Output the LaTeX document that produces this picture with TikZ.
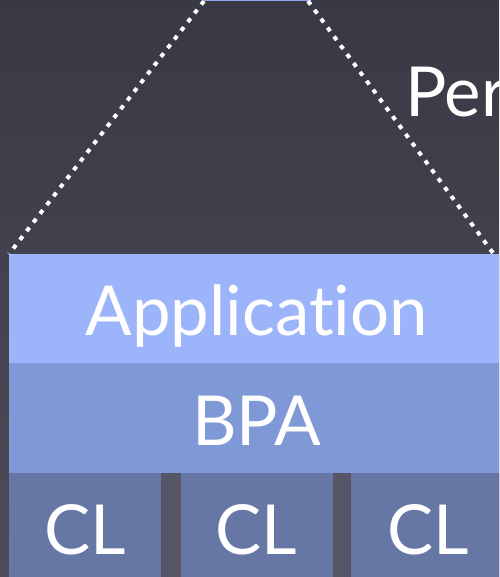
\documentclass[tikz,border=0pt]{standalone}
\usepackage{fontspec}
\setmainfont{Lato}[Ligatures=NoCommon]
\usetikzlibrary{positioning}
\definecolor{bgtop}{HTML}{393945}
\definecolor{bgbot}{HTML}{4D4C5A}
\definecolor{appblue}{HTML}{9CB4FA}
\definecolor{bpablue}{HTML}{7F99D6}
\definecolor{clblue}{HTML}{6677A6}
\definecolor{gapgray}{HTML}{555566}
\definecolor{topblue}{HTML}{8FA6F0}
\tikzset{
  layer/.style={inner sep=0pt, text=white, font=\fontsize{69}{69}\selectfont, anchor=north west},
  dots/.style={draw=white, line width=4pt, dash pattern=on 4.5pt off 6.5pt},
  lab/.style={text=white, font=\fontsize{69}{69}\selectfont, inner sep=0pt},
}
\begin{document}
\begin{tikzpicture}[x=1pt,y=-1pt]
  \useasboundingbox (0,0) rectangle (499,577);
  \clip (0,0) rectangle (499,577);
  \shade[top color=bgtop, bottom color=bgbot] (0,0) rectangle (499,577);

  % layers
  \node[layer, fill=appblue, minimum width=495pt, text height=81pt, text depth=28pt] (app) at (9,254) {Application};
  \node[layer, fill=bpablue, minimum width=495pt, text height=83pt, text depth=28pt] (bpa) at ([yshift=1pt]app.south west) {BPA};
  \fill[gapgray] ([yshift=1pt]bpa.south west) rectangle (504,585);
  \node[layer, fill=clblue, minimum width=152pt, text height=81pt, text depth=30pt] (cl1) at ([yshift=1pt]bpa.south west) {CL};
  \node[layer, fill=clblue, minimum width=152pt, text height=81pt, text depth=30pt, right=19pt of cl1.north east, anchor=north west] (cl2) {CL};
  \node[layer, fill=clblue, minimum width=154pt, text height=81pt, text depth=30pt, right=18pt of cl2.north east, anchor=north west] (cl3) {CL};

  % zoomed-from box and its outline
  \fill[topblue] (204,-10) rectangle (311,1.5);
  \coordinate (topL) at (204,1);
  \coordinate (topR) at (308,1);
  \coordinate (botR) at (493,253);
  \draw[dots] (topL) -- (app.north west);
  \draw[dots] (topR) -- (botR);

  \node[lab, anchor=base west] (per) at (405,117) {Per};
\end{tikzpicture}
\end{document}
